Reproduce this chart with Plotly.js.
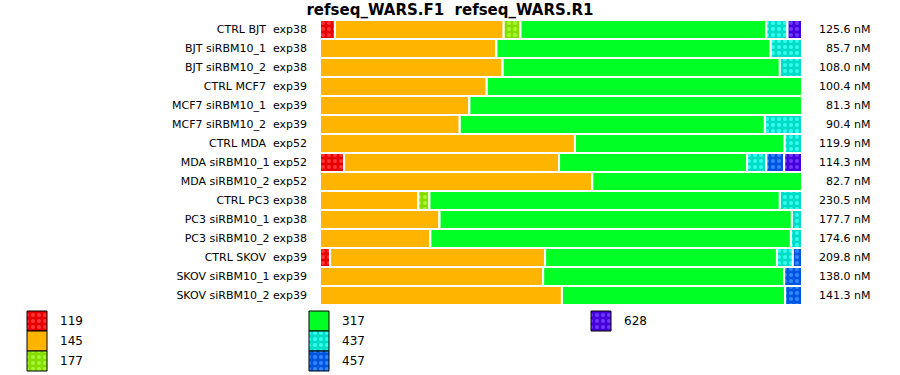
<!DOCTYPE html>
<html><head><meta charset="utf-8">
<script src="https://cdn.plot.ly/plotly-3.0.1.min.js"></script>
<style>html,body{margin:0;padding:0;background:#fff}</style>
</head><body><div id="chart" style="width:900px;height:375px"></div>
<script>
// ---------------- data ----------------
const chartTitle = 'refseq_WARS.F1\u00a0\u00a0refseq_WARS.R1';
const samples = [
  'CTRL BJT\u00a0\u00a0exp38',
  'BJT siRBM10_1\u00a0\u00a0exp38',
  'BJT siRBM10_2\u00a0\u00a0exp38',
  'CTRL MCF7\u00a0\u00a0exp39',
  'MCF7 siRBM10_1\u00a0\u00a0exp39',
  'MCF7 siRBM10_2\u00a0\u00a0exp39',
  'CTRL MDA\u00a0\u00a0exp52',
  'MDA siRBM10_1 exp52',
  'MDA siRBM10_2 exp52',
  'CTRL PC3 exp38',
  'PC3 siRBM10_1 exp38',
  'PC3 siRBM10_2 exp38',
  'CTRL SKOV\u00a0\u00a0exp39',
  'SKOV siRBM10_1 exp39',
  'SKOV siRBM10_2 exp39'
];
const concentrations = ['125.6 nM','85.7 nM','108.0 nM','100.4 nM','81.3 nM','90.4 nM','119.9 nM',
  '114.3 nM','82.7 nM','230.5 nM','177.7 nM','174.6 nM','209.8 nM','138.0 nM','141.3 nM'];
const seriesNames = ['119','145','177','317','437','457','628'];
// percentage of each fragment size per sample
const s119 = [3.1, 0, 0, 0, 0, 0, 0, 5.0, 0, 0, 0, 0, 2.1, 0, 0];
const s145 = [35.0,36.6,37.9,34.6,31.0,29.0,52.9,44.6,56.5,20.4,24.8,22.9,44.6,46.3,50.2];
const s177 = [3.5, 0, 0, 0, 0, 0, 0, 0, 0, 2.3, 0, 0, 0, 0, 0];
const s317 = [51.0,56.9,57.5,65.4,69.0,63.3,43.5,39.0,43.5,72.7,73.1,74.8,48.1,50.0,46.3];
const s437 = [4.4, 6.5, 4.6, 0, 0, 7.7, 3.6, 4.0, 0, 4.6, 2.1, 2.3, 3.3, 0, 0];
const s457 = [0, 0, 0, 0, 0, 0, 0, 3.7, 0, 0, 0, 0, 1.9, 3.7, 3.5];
const s628 = [3.0, 0, 0, 0, 0, 0, 0, 3.7, 0, 0, 0, 0, 0, 0, 0];
const seriesValues = [s119, s145, s177, s317, s437, s457, s628];

// ---------------- styles ----------------
const seriesBg  = ['#e60000','#ffb400','#86dc00','#00ff24','#00dcc8','#0055e0','#4600dc'];
const seriesDot = ['#ff3535', null,     '#a6f832', null,     '#33ffee','#3388ff','#6e38ff'];
const FONT = 'DejaVu Sans, Verdana, sans-serif';

function markerFor(i, lineColor, lineWidth) {
  const m = {color: seriesBg[i], line: {color: lineColor, width: lineWidth}};
  if (seriesDot[i]) {
    m.pattern = {shape: '.', size: 6, solidity: 0.35, fillmode: 'replace',
                 bgcolor: seriesBg[i], fgcolor: seriesDot[i]};
  }
  return m;
}

const traces = [];
const cum = samples.map(() => 0);
seriesValues.forEach((vals, i) => {
  const base = cum.slice();
  vals.forEach((v, r) => { cum[r] += v; });
  traces.push({
    type: 'bar', orientation: 'h', name: seriesNames[i],
    x: vals, y: samples, base: base,
    xaxis: 'x', yaxis: 'y',
    marker: markerFor(i, '#ffffff', 2),
    hoverinfo: 'skip', showlegend: false
  });
});

// ---------------- legend (drawn on a pixel-scaled overlay axis) ----------------
const W = 900, H = 375;
const legLeft = 27, legColStep = 282, legTop = 311, legRowStep = 20, legSw = 20, legTextGap = 31;
const annotations = [];
seriesNames.forEach((nm, i) => {
  const col = Math.floor(i / 3), row = i % 3;
  const x0 = legLeft + col * legColStep;
  const yc = legTop + row * legRowStep + legSw / 2;
  traces.push({
    type: 'bar', orientation: 'h', x: [legSw], base: [x0], y: [yc], width: [legSw],
    xaxis: 'x2', yaxis: 'y2', marker: markerFor(i, '#000000', 1),
    hoverinfo: 'skip', showlegend: false
  });
  annotations.push({xref: 'x2', yref: 'y2', x: x0 + legTextGap, y: yc, text: nm,
    showarrow: false, xanchor: 'left', yanchor: 'middle',
    font: {family: FONT, size: 12, color: '#000'}});
});

samples.forEach((s, r) => {
  annotations.push({xref: 'paper', yref: 'y', x: 872 / W, y: s, text: concentrations[r],
    showarrow: false, xanchor: 'right', yanchor: 'middle',
    font: {family: FONT, size: 11, color: '#000'}});
});

const layout = {
  width: W, height: H,
  margin: {l: 0, r: 0, t: 0, b: 0},
  paper_bgcolor: '#fff', plot_bgcolor: 'rgba(0,0,0,0)',
  barmode: 'overlay', bargap: 0,
  showlegend: false,
  title: {text: chartTitle, x: 0.5, xref: 'paper', xanchor: 'center',
          y: 1 - 9.5 / H, yref: 'container', yanchor: 'middle',
          font: {family: FONT, size: 15, weight: 'bold', color: '#000'}},
  xaxis: {domain: [320 / W, 802 / W], range: [0, 100], visible: false, fixedrange: true},
  yaxis: {domain: [(H - 305) / H, (H - 20) / H], type: 'category', autorange: 'reversed',
          showgrid: false, zeroline: false, showline: false, ticks: '',
          ticklabelstandoff: 12,
          tickfont: {family: FONT, size: 11, color: '#000'}, fixedrange: true},
  xaxis2: {domain: [0, 1], range: [0, W], visible: false, anchor: 'y2', fixedrange: true},
  yaxis2: {domain: [0, 1], range: [H, 0], visible: false, anchor: 'x2', fixedrange: true},
  annotations: annotations,
  font: {family: FONT}
};

Plotly.newPlot('chart', traces, layout, {displayModeBar: false, staticPlot: true});
</script>
</body></html>
